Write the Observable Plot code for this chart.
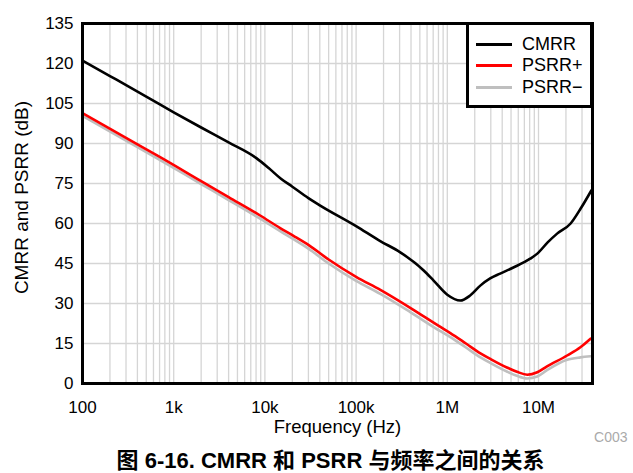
<!DOCTYPE html>
<html><head><meta charset="utf-8">
<script src="https://cdn.jsdelivr.net/npm/d3@7"></script>
<script src="https://cdn.jsdelivr.net/npm/@observablehq/plot@0.6"></script>
<style>
body{margin:0;background:#fff;width:633px;height:473px;position:relative;overflow:hidden;font-family:"Liberation Sans",Arial,sans-serif;}
#rule{position:absolute;left:0;top:3px;width:633px;height:2px;background:#8a8a8a;}
#chart{position:absolute;left:0;top:0;}
#legend{position:absolute;left:466px;top:22px;width:127px;height:86px;box-sizing:border-box;border:3px solid #000;background:#fff;}
.sw{position:absolute;left:7px;width:36px;height:3px;}
.lt{position:absolute;left:53px;font-size:18px;line-height:20px;color:#000;white-space:nowrap;}
#caption{position:absolute;left:14px;top:448px;width:633px;text-align:center;font-weight:bold;font-size:22px;line-height:26px;font-family:"Liberation Sans","Noto Sans CJK SC",sans-serif;color:#000;}
</style></head>
<body>
<div id="rule"></div>
<div id="chart"></div>
<div id="legend"></div>
<div id="caption"></div>
<script>
// ---- data ----
const seriesNames = ["CMRR", "PSRR+", "PSRR\u2212"];
const seriesColors = ["#000000", "#ff0000", "#bfbfbf"];

const freqCMRR = [100, 200, 500, 1000, 2000, 4000, 8000, 11000, 15000, 20000, 30000, 40000, 100000, 184000, 305000, 551000, 708000, 1000000, 1390000, 1780000, 2300000, 2950000, 3800000, 5300000, 8100000, 9700000, 12600000, 16000000, 22500000, 29000000, 38000000];
const cmrr = [121.1, 115.3, 107.6, 101.7, 96.0, 90.4, 84.6, 80.8, 76.8, 73.8, 69.5, 66.8, 59.0, 53.4, 49.2, 42.4, 38.6, 33.3, 31.1, 33.0, 36.7, 39.4, 41.2, 43.5, 46.8, 48.7, 52.9, 56.2, 60.0, 65.6, 72.4];

const freqPSRR = [100, 300, 710, 2000, 4000, 8870, 14700, 20600, 30000, 50000, 100000, 184500, 400000, 840000, 1080000, 1600000, 2310000, 2970000, 4500000, 5800000, 7520000, 9700000, 12400000, 20600000, 28800000, 37200000];
const psrrPlus = [101.4, 92.1, 84.9, 75.9, 69.9, 63.0, 58.3, 55.4, 52.0, 46.5, 40.0, 35.1, 28.2, 21.2, 18.9, 15.0, 11.3, 9.2, 6.0, 4.4, 3.3, 4.2, 6.4, 10.5, 13.6, 16.8];
const psrrMinus = [100.4, 91.1, 83.8, 74.8, 68.8, 61.8, 57.1, 54.1, 50.6, 45.0, 38.5, 33.6, 26.6, 19.6, 17.4, 13.5, 9.8, 7.7, 4.5, 2.9, 1.9, 2.6, 5.0, 8.9, 9.8, 10.2];

const yTicks = [0, 15, 30, 45, 60, 75, 90, 105, 120, 135];
const xTickValues = [1e2, 1e3, 1e4, 1e5, 1e6, 1e7];
const xTickLabels = ["100", "1k", "10k", "100k", "1M", "10M"];
const xDomain = [100, 3.91e7];
const xTitle = "Frequency (Hz)";
const yTitle = "CMRR and PSRR (dB)";
const footnote = "C003";
const captionText = "图 6-16. CMRR 和 PSRR 与频率之间的关系";

// ---- build ----
const rows = [];
freqCMRR.forEach((f, i) => rows.push({f, v: cmrr[i], s: seriesNames[0]}));
freqPSRR.forEach((f, i) => rows.push({f, v: psrrMinus[i], s: seriesNames[2]}));
freqPSRR.forEach((f, i) => rows.push({f, v: psrrPlus[i], s: seriesNames[1]}));
const order = [2, 1, 0];
const gridX = d3.scaleLog().domain(xDomain).ticks();

const lineMarks = order.map(k => Plot.line(rows.filter(r => r.s === seriesNames[k]), {
  x: "f", y: "v", stroke: seriesColors[k], strokeWidth: 2.6, curve: "monotone-x"
}));

const chart = Plot.plot({
  width: 633, height: 445,
  marginLeft: 82, marginRight: 41, marginTop: 23, marginBottom: 62,
  x: {type: "log", domain: xDomain, axis: null},
  y: {domain: [0, 135], axis: null},
  style: {fontFamily: '"Liberation Sans", Arial, sans-serif', background: "white", overflow: "visible", color: "#000"},
  marks: [
    Plot.ruleX(gridX, {stroke: "#d5d5d5", strokeWidth: 1.3}),
    Plot.ruleY(yTicks, {stroke: "#d5d5d5", strokeWidth: 1.3}),
    ...lineMarks,
    Plot.frame({stroke: "#000", strokeWidth: 3}),
    Plot.axisY(yTicks, {anchor: "left", tickSize: 0, tickPadding: 9, fontSize: 17, label: null, tickFormat: d => String(d)}),
    Plot.axisX(xTickValues, {anchor: "bottom", tickSize: 0, tickPadding: 17, fontSize: 17, label: null, tickFormat: d => xTickLabels[xTickValues.indexOf(d)]}),
    Plot.text([xTitle], {frameAnchor: "bottom", lineAnchor: "middle", textAnchor: "middle", dy: 44, fontSize: 18.5}),
    Plot.text([yTitle], {frameAnchor: "left", lineAnchor: "middle", textAnchor: "middle", dx: -61, dy: -6, rotate: -90, fontSize: 19}),
    Plot.text([footnote], {frameAnchor: "bottom-right", lineAnchor: "middle", dx: 35, dy: 54, textAnchor: "end", fill: "#aaaaaa", fontSize: 14})
  ]
});
document.getElementById("chart").appendChild(chart);

// legend
const legend = document.getElementById("legend");
const rowY = [19, 40, 62];
seriesNames.forEach((name, i) => {
  const sw = document.createElement("div");
  sw.className = "sw";
  sw.style.top = (rowY[i] - 1.5) + "px";
  sw.style.background = seriesColors[i];
  legend.appendChild(sw);
  const t = document.createElement("div");
  t.className = "lt";
  t.style.top = (rowY[i] - 10) + "px";
  t.textContent = name;
  legend.appendChild(t);
});
document.getElementById("caption").textContent = captionText;
</script>
</body></html>
